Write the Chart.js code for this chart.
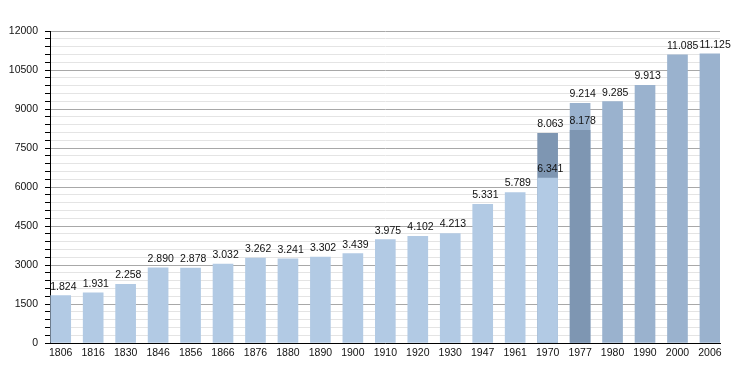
<!DOCTYPE html>
<html>
<head>
<meta charset="utf-8">
<script src="https://cdn.jsdelivr.net/npm/chart.js@4.4.1/dist/chart.umd.min.js"></script>
<style>
  html, body { margin: 0; padding: 0; background: #fff; }
  #wrap { width: 750px; height: 373px; }
</style>
</head>
<body>
<div id="wrap"><canvas id="myChart"></canvas></div>
<script>
const years = ['1806', '1816', '1830', '1846', '1856', '1866', '1876', '1880', '1890', '1900',
    '1910', '1920', '1930', '1947', '1961', '1970', '1977', '1980', '1990', '2000', '2006'];
const population = [1824, 1931, 2258, 2890, 2878, 3032, 3262, 3241, 3302, 3439,
    3975, 4102, 4213, 5331, 5789, 8063, 9214, 9285, 9913, 11085, 11125];
// second figure given for 1970 and 1977 (drawn in front of the main bar)
const partial = [null, null, null, null, null, null, null, null, null, null,
    null, null, null, null, null, 6341, 8178, null, null, null, null];
const yTicks = [0, 1500, 3000, 4500, 6000, 7500, 9000, 10500, 12000];

const LIGHT = '#b2cae4';
const DARK = '#7e96b2';
const MID = '#9ab2ce';

const fmt = v => String(v).replace(/\B(?=(\d{3})+(?!\d))/g, '.');

const valueLabels = {
    id: 'valueLabels',
    afterDatasetsDraw(chart) {
        const c = chart.ctx;
        c.save();
        c.font = '10.5px "Liberation Sans", Arial, sans-serif';
        c.fillStyle = '#111';
        c.textAlign = 'left';
        c.textBaseline = 'alphabetic';
        chart.data.datasets.forEach((ds, di) => {
            chart.getDatasetMeta(di).data.forEach((bar, i) => {
                const v = ds.data[i].y;
                if (v == null) return;
                c.fillText(fmt(v), bar.x - bar.width / 2 - 0.5, bar.y - 6);
            });
        });
        c.restore();
    }
};

Chart.defaults.font.family = '"Liberation Sans", Arial, sans-serif';
Chart.defaults.font.size = 10.5;
Chart.defaults.color = '#111';

const ctx = document.getElementById('myChart');

new Chart(ctx, {
    type: 'bar',
    data: {
        datasets: [{
            label: 'partial',
            data: partial.map((v, i) => ({ x: i, y: v })),
            backgroundColor: partial.map((v, i) => i === 16 ? DARK : LIGHT),
            order: 0
        }, {
            label: 'population',
            data: population.map((v, i) => ({ x: i, y: v })),
            backgroundColor: population.map((v, i) => i < 15 ? LIGHT : (i === 15 ? DARK : MID)),
            order: 1
        }]
    },
    options: {
        responsive: true,
        maintainAspectRatio: false,
        animation: false,
        datasets: { bar: { barThickness: 20, grouped: false } },
        layout: { padding: { top: 31, right: 30, left: 0, bottom: 0 } },
        plugins: {
            legend: { display: false },
            tooltip: { enabled: false }
        },
        scales: {
            x: {
                type: 'linear',
                offset: false,
                min: -0.33,
                max: 20.31,
                afterFit: s => { s.height = 30; },
                grid: { display: true, offset: false, drawOnChartArea: false, drawTicks: false, color: 'transparent' },
                border: { display: true, color: '#000', width: 1 },
                ticks: {
                    stepSize: 1,
                    includeBounds: false,
                    autoSkip: false,
                    maxRotation: 0,
                    padding: 4,
                    color: '#111',
                    callback: v => years[Math.round(v)] ?? ''
                }
            },
            y: {
                min: 0,
                max: 12000,
                afterFit: s => { s.width = 50; },
                grid: {
                    color: c => yTicks.includes(c.tick.value) ? '#a8a8a8' : '#e4e4e4',
                    tickColor: '#000',
                    tickLength: 5
                },
                border: { display: true, color: '#000', width: 1 },
                ticks: {
                    stepSize: 300,
                    maxTicksLimit: 100,
                    autoSkip: false,
                    padding: 7,
                    color: '#111',
                    callback: v => yTicks.includes(v) ? String(v) : ''
                }
            }
        }
    },
    plugins: [valueLabels]
});
</script>
</body>
</html>
